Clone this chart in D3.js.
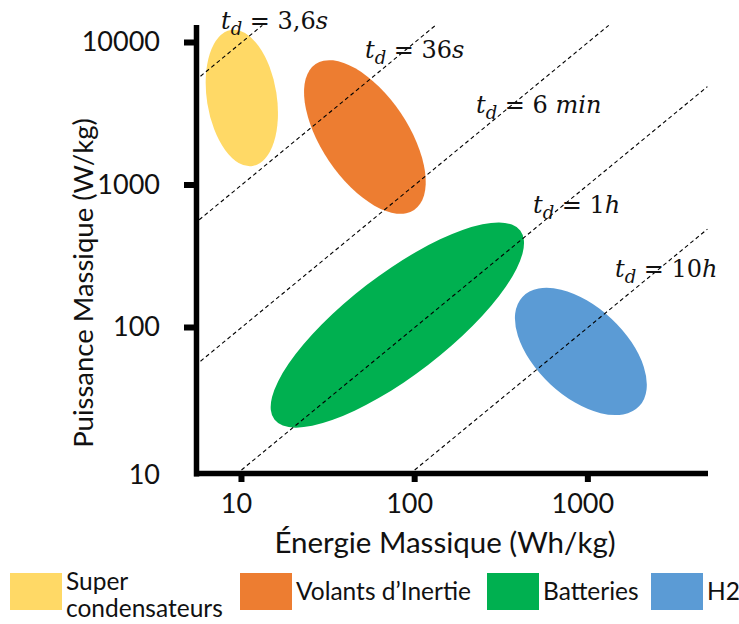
<!DOCTYPE html>
<html>
<head>
<meta charset="utf-8">
<script src="https://cdn.jsdelivr.net/npm/d3@7"></script>
<style>
  html, body { margin: 0; padding: 0; background: #fff; }
  svg { display: block; }
</style>
</head>
<body>
<svg id="chart" width="739" height="624"></svg>
<script>
// ---------- DATA ----------
const xTickValues = [10, 100, 1000];
const yTickValues = [10, 100, 1000, 10000];
const xTickLabels = ["10", "100", "1000"];
const yTickLabels = ["10", "100", "1000", "10000"];

const techNames = ["Super condensateurs", "Volants d\u2019Inertie", "Batteries", "H2"];
// major-axis end points of each technology region (Wh/kg, W/kg)
const majorStartE = [8.7, 26.8, 15.5, 419];
const majorStartP = [12250, 7060, 22.6, 164];
const majorEndE = [11.6, 99.3, 407, 1982];
const majorEndP = [1360, 668, 479, 28.1];
const minorRatio = [0.507, 0.49, 0.325, 0.56];

// discharge-time iso lines: P = E / t
const tdLabels = ["3,6s", "36s", "6 min", "1h", "10h"];
const tdHours = [0.001, 0.01, 0.1, 1, 10];
const lineStartE = [5.8, 5.7, 5.8, 10, 100];
const lineEndE = [13.2, 132, 1320, 4900, 4900];

// ---------- STYLE / LAYOUT ----------
const techColors = ["#FFD966", "#ED7D31", "#00B050", "#5B9BD5"];
const uiFont = "Lato, 'Open Sans', sans-serif";
const mathFont = "'DejaVu Serif', 'Liberation Serif', serif";
const labelPos = [[221, 29], [365, 58], [476, 113], [533, 213], [615, 277]];

const svg = d3.select("#chart");

const x = d3.scaleLog().domain([Math.pow(10, 0.7403), Math.pow(10, 3.6937)]).range([196.5, 708]);
const y = d3.scaleLog().domain([Math.pow(10, 0.9754), Math.pow(10, 4.1228)]).range([473.5, 25]);

// ---------- ELLIPSES ----------
const ellG = svg.append("g");
techNames.forEach((name, i) => {
  const x1 = x(majorStartE[i]), y1 = y(majorStartP[i]);
  const x2 = x(majorEndE[i]), y2 = y(majorEndP[i]);
  const cx = (x1 + x2) / 2, cy = (y1 + y2) / 2;
  const a = Math.hypot(x2 - x1, y2 - y1) / 2;
  const b = a * minorRatio[i];
  const ang = Math.atan2(y2 - y1, x2 - x1) * 180 / Math.PI;
  ellG.append("ellipse")
    .attr("cx", 0).attr("cy", 0).attr("rx", a).attr("ry", b)
    .attr("transform", `translate(${cx},${cy}) rotate(${ang})`)
    .attr("fill", techColors[i]);
});

// ---------- ISO LINES ----------
const lineG = svg.append("g");
tdHours.forEach((t, i) => {
  const e0 = lineStartE[i], e1 = lineEndE[i];
  lineG.append("line")
    .attr("x1", x(e0)).attr("y1", y(e0 / t))
    .attr("x2", x(e1)).attr("y2", y(e1 / t))
    .attr("stroke", "#000").attr("stroke-width", 1.1)
    .attr("stroke-dasharray", "4,3");
});

// ---------- ISO LINE LABELS ----------
tdLabels.forEach((lab, i) => {
  const m = lab.match(/^([\d,]+)\s*(.*)$/);
  const txt = svg.append("text")
    .attr("x", labelPos[i][0]).attr("y", labelPos[i][1])
    .attr("font-family", mathFont).attr("font-size", 24).attr("fill", "#111");
  txt.append("tspan").attr("font-style", "italic").text("t");
  txt.append("tspan").attr("font-style", "italic").attr("font-size", 18).attr("dy", 6).text("d");
  txt.append("tspan").attr("dy", -6).text(" = " + m[1] + (m[2].length > 2 ? " " : ""));
  txt.append("tspan").attr("font-style", "italic").text(m[2]);
});

// ---------- AXES ----------
const axG = svg.append("g");
axG.append("line").attr("x1", 196.5).attr("x2", 196.5).attr("y1", 25).attr("y2", 476.5)
  .attr("stroke", "#000").attr("stroke-width", 5.5);
axG.append("line").attr("x1", 194).attr("x2", 708).attr("y1", 473.5).attr("y2", 473.5)
  .attr("stroke", "#000").attr("stroke-width", 5.5);

xTickValues.forEach((v, i) => {
  axG.append("rect").attr("x", x(v) - 3).attr("y", 474).attr("width", 6).attr("height", 8).attr("fill", "#000");
  axG.append("text").attr("x", x(v) - 5).attr("y", 513)
    .attr("text-anchor", "middle").attr("font-family", uiFont).attr("font-size", 27)
    .attr("fill", "#111").text(xTickLabels[i]);
});
yTickValues.forEach((v, i) => {
  if (v > 10) axG.append("rect").attr("x", 184).attr("y", y(v) - 3).attr("width", 13).attr("height", 6).attr("fill", "#000");
  axG.append("text").attr("x", 160).attr("y", (v === 10 ? 475 : y(v)) + 9)
    .attr("text-anchor", "end").attr("font-family", uiFont).attr("font-size", 27)
    .attr("fill", "#111").text(yTickLabels[i]);
});

svg.append("text").attr("x", 445).attr("y", 553).attr("text-anchor", "middle")
  .attr("font-family", uiFont).attr("font-size", 29.5).attr("fill", "#111")
  .text("\u00C9nergie Massique (Wh/kg)");
svg.append("text").attr("transform", "translate(93,283) rotate(-90)").attr("text-anchor", "middle")
  .attr("font-family", uiFont).attr("font-size", 27.5).attr("fill", "#111")
  .text("Puissance Massique (W/kg)");

// ---------- LEGEND ----------
const legX = [10, 240, 487, 651];
const legG = svg.append("g");
techNames.forEach((name, i) => {
  legG.append("rect").attr("x", legX[i]).attr("y", 573).attr("width", 52).attr("height", 37).attr("fill", techColors[i]);
  const t = legG.append("text").attr("font-family", uiFont).attr("font-size", 24.5).attr("fill", "#111");
  if (i === 0) {
    const parts = name.split(" ");
    t.append("tspan").attr("x", legX[i] + 56).attr("y", 590).text(parts[0]);
    t.append("tspan").attr("x", legX[i] + 56).attr("y", 617).text(parts[1]);
  } else {
    t.attr("x", legX[i] + 56).attr("y", 600).text(name);
  }
});
</script>
</body>
</html>
